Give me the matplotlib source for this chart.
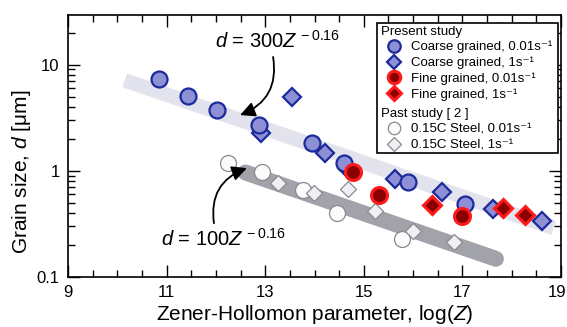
import numpy as np
import matplotlib
matplotlib.use("Agg")
import matplotlib.pyplot as plt
from matplotlib.lines import Line2D
from matplotlib.patches import Rectangle
from matplotlib.transforms import ScaledTranslation
from matplotlib.ticker import MultipleLocator, LogLocator, NullFormatter, FixedLocator, FixedFormatter

plt.rcParams['font.family'] = ['Liberation Sans', 'DejaVu Sans']
plt.rcParams['mathtext.fontset'] = 'custom'
plt.rcParams['mathtext.rm'] = 'Liberation Sans'
plt.rcParams['mathtext.it'] = 'Liberation Sans:italic'
plt.rcParams['mathtext.bf'] = 'Liberation Sans:bold'

# Present study: coarse grained
coarse_slow_logz = [10.85, 11.44, 12.03, 12.87, 13.94, 14.60, 15.90, 17.05]
coarse_slow_d = [7.28, 5.10, 3.71, 2.70, 1.81, 1.19, 0.787, 0.492]
coarse_fast_logz = [13.55, 12.92, 14.22, 14.69, 15.63, 16.58, 17.63, 18.61]
coarse_fast_d = [4.96, 2.28, 1.48, 1.02, 0.83, 0.634, 0.433, 0.338]

# Present study: fine grained
fine_slow_logz = [14.79, 15.31, 16.99]
fine_slow_d = [0.98, 0.59, 0.374]
fine_fast_logz = [16.38, 17.82, 18.27]
fine_fast_d = [0.475, 0.442, 0.382]

# Past study [2]: 0.15C steel
past_slow_logz = [12.25, 12.93, 13.77, 14.45, 15.77]
past_slow_d = [1.19, 0.98, 0.658, 0.402, 0.230]
past_fast_logz = [13.25, 13.98, 14.67, 15.23, 16.00, 16.83]
past_fast_d = [0.77, 0.612, 0.672, 0.421, 0.272, 0.214]

# Fitted relations d = A * Z^n
fit_upper = (300, -0.16)
fit_lower = (100, -0.16)
upper_range = (10.15, 18.85)
lower_range = (12.6, 17.68)

x_ticks = [9, 11, 13, 15, 17, 19]
y_ticks = [0.1, 1, 10]
y_tick_labels = ['0.1', '1', '10']

fig = plt.figure(figsize=(5.67, 3.27), dpi=100)
ax = fig.add_axes([68 / 567, 1 - 277 / 327, (561 - 68) / 567, (277 - 14.7) / 327])
ax.set_yscale('log')
ax.set_xlim(9, 19)
ax.set_ylim(0.1, 29.5)


def band(rng, coef):
    lz = np.array(rng)
    return lz, coef[0] * (10.0 ** lz) ** coef[1]


bx, by = band(upper_range, fit_upper)
ax.plot(bx, by, color='#e3e3ee', lw=10.5, solid_capstyle='butt', zorder=1)
bx, by = band(lower_range, fit_lower)
ax.plot(bx, by, color='#a2a2aa', lw=11.5, solid_capstyle='round', zorder=1)

blue_face, blue_edge = '#8e90d6', '#1b2a9c'
red_face, red_edge = '#8a0000', '#ff1a1a'
past_edge = '#8a8a8a'

st_cs = dict(marker='o', ms=11.5, mfc=blue_face, mec=blue_edge, mew=1.6, ls='none')
st_cf = dict(marker='D', ms=9, mfc=blue_face, mec=blue_edge, mew=1.6, ls='none')
st_fs = dict(marker='o', ms=11.5, mfc=red_face, mec=red_edge, mew=2.2, ls='none')
st_ff = dict(marker='D', ms=9, mfc=red_face, mec=red_edge, mew=2.2, ls='none')
st_ps = dict(marker='o', ms=11.5, mfc='#fbfbfd', mec=past_edge, mew=0.9, ls='none')
st_pf = dict(marker='D', ms=8.5, mfc='#eef0f5', mec=past_edge, mew=0.9, ls='none')

ax.plot(past_slow_logz, past_slow_d, zorder=3, **st_ps)
ax.plot(past_fast_logz, past_fast_d, zorder=3, **st_pf)
ax.plot(coarse_fast_logz, coarse_fast_d, zorder=4, **st_cf)
ax.plot(coarse_slow_logz, coarse_slow_d, zorder=4, **st_cs)
ax.plot(fine_slow_logz, fine_slow_d, zorder=5, **st_fs)
ax.plot(fine_fast_logz, fine_fast_d, zorder=5, **st_ff)

# Ticks on all four sides, pointing inward
ax.xaxis.set_major_locator(FixedLocator(x_ticks))
ax.xaxis.set_minor_locator(MultipleLocator(0.5))
ax.yaxis.set_major_locator(FixedLocator(y_ticks))
ax.yaxis.set_major_formatter(FixedFormatter(y_tick_labels))
ax.yaxis.set_minor_locator(LogLocator(base=10, subs=np.arange(2, 10), numticks=20))
ax.yaxis.set_minor_formatter(NullFormatter())
ax.tick_params(which='both', direction='in', top=True, right=True, width=1.0,
               labelsize=12, pad=6)
ax.tick_params(which='major', length=8.5)
ax.tick_params(which='minor', length=4.8)
for s in ax.spines.values():
    s.set_linewidth(1.2)

ax.set_xlabel('Zener-Hollomon parameter, log($Z$)', fontsize=15, labelpad=2)
ax.set_ylabel('Grain size, $d$ [μm]', fontsize=15)
ax.yaxis.set_label_coords(-0.072, 0.40)

# Fit annotations
arrow_kw = dict(arrowstyle='-|>,head_length=0.9,head_width=0.45', color='black', lw=1.3,
                shrinkA=0, shrinkB=0)
ax.text(11.98, 14.4, r'$d$ = 300$Z^{\,-0.16}$', fontsize=14.5, ha='left', va='baseline', zorder=6)
ax.annotate('', xy=(12.49, 3.35), xytext=(13.16, 11.8),
            arrowprops=dict(connectionstyle='arc3,rad=-0.4', **arrow_kw), zorder=6)
ax.text(10.89, 0.195, r'$d$ = 100$Z^{\,-0.16}$', fontsize=14.5, ha='left', va='baseline', zorder=6)
ax.annotate('', xy=(12.63, 1.06), xytext=(11.96, 0.321),
            arrowprops=dict(connectionstyle='arc3,rad=-0.4', **arrow_kw), zorder=6)

fig.canvas.draw()
last_label = ax.get_xticklabels()[-1]
last_label.set_transform(last_label.get_transform() + ScaledTranslation(-4 / 100, 0, fig.dpi_scale_trans))


# Legend: two sections inside one frame
def h(st):
    s = dict(st)
    s['ms'] = s['ms'] * 0.78
    return Line2D([], [], **s)


leg_kw = dict(frameon=False, fontsize=9.5, title_fontsize=9.5, alignment='left',
              handlelength=1.95, handletextpad=0.35, borderpad=0, borderaxespad=0,
              labelspacing=0.25, handleheight=0.6, loc='upper left')
present_labels = ['Coarse grained, 0.01s⁻¹', 'Coarse grained, 1s⁻¹',
                  'Fine grained, 0.01s⁻¹', 'Fine grained, 1s⁻¹']
past_labels = ['0.15C Steel, 0.01s⁻¹', '0.15C Steel, 1s⁻¹']

fx0 = (381 - 68) / 493
leg1 = ax.legend([h(st_cs), h(st_cf), h(st_fs), h(st_ff)], present_labels,
                 title='Present study', bbox_to_anchor=(fx0, 1 - (25.5 - 14.7) / 262.3), **leg_kw)
ax.add_artist(leg1)
leg2 = ax.legend([h(st_ps), h(st_pf)], past_labels,
                 title='Past study [ 2 ]', bbox_to_anchor=(fx0, 1 - (108.5 - 14.7) / 262.3), **leg_kw)

ax.add_patch(Rectangle(((377 - 68) / 493, 1 - (153 - 14.7) / 262.3),
                       (558 - 377) / 493, (153 - 22.7) / 262.3,
                       transform=ax.transAxes, fill=True, fc='white', ec='black', lw=1.2, zorder=7))
leg1.set_zorder(8)
leg2.set_zorder(8)

fig.savefig('out.png', dpi=100)
